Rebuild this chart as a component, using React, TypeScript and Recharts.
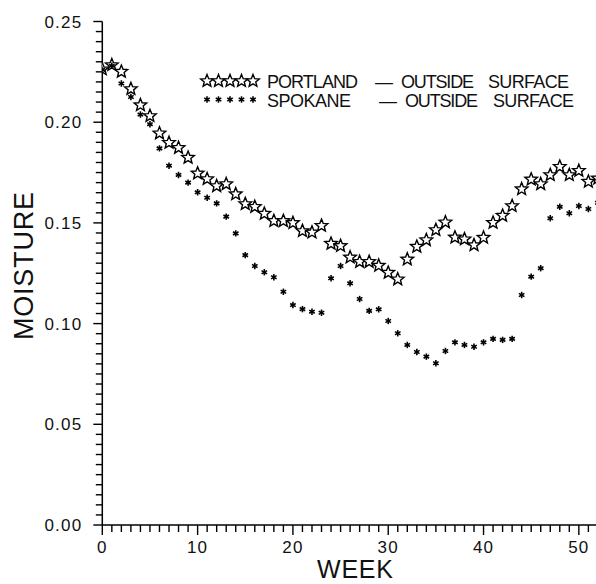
import React from "react";
import { ScatterChart, Scatter, XAxis, YAxis, Customized } from "recharts";

const weeks = [
  0, 1, 2, 3, 4, 5, 6, 7, 8, 9, 10, 11, 12, 13, 14, 15, 16, 17, 18, 19, 20, 21, 22, 23, 24, 25,
  26, 27, 28, 29, 30, 31, 32, 33, 34, 35, 36, 37, 38, 39, 40, 41, 42, 43, 44, 45, 46, 47, 48, 49,
  50, 51, 52,
];

const portlandMoisture = [
  0.2263, 0.2284, 0.2251, 0.2165, 0.2085, 0.2031, 0.1945, 0.1898, 0.1873, 0.1824, 0.1746, 0.1718,
  0.1683, 0.1693, 0.1643, 0.1594, 0.158, 0.1546, 0.151, 0.151, 0.15, 0.146, 0.1453, 0.1486,
  0.1397, 0.1386, 0.1329, 0.1307, 0.1307, 0.1288, 0.1253, 0.122, 0.1319, 0.1382, 0.1415, 0.1465,
  0.1503, 0.1428, 0.1419, 0.139, 0.1427, 0.1501, 0.1536, 0.1584, 0.1668, 0.1716, 0.1693, 0.1738,
  0.1779, 0.1738, 0.1759, 0.1705, 0.1721,
];

const spokaneMoisture = [
  0.226, 0.228, 0.2192, 0.2125, 0.2038, 0.199, 0.187, 0.1784, 0.1738, 0.17, 0.1652, 0.1625,
  0.1597, 0.1531, 0.1448, 0.134, 0.1286, 0.1255, 0.123, 0.1158, 0.1092, 0.1072, 0.1059, 0.1054,
  0.1225, 0.1286, 0.12, 0.1122, 0.1063, 0.1071, 0.1013, 0.0952, 0.0894, 0.0859, 0.0836, 0.0803,
  0.0864, 0.0907, 0.0894, 0.0885, 0.0907, 0.0924, 0.0919, 0.0924, 0.1142, 0.1233, 0.1275, 0.1523,
  0.158, 0.1548, 0.1584, 0.1569, 0.16,
];

const xMajorTicks = [0, 10, 20, 30, 40, 50];
const yMajorTicks = [0.0, 0.05, 0.1, 0.15, 0.2, 0.25];

const seriesNames = ["PORTLAND", "SPOKANE"];
const legendSuffix = ["OUTSIDE", "SURFACE"];

const xTicks: number[] = [];
for (let i = 0; i <= 51; i++) xTicks.push(i);
const yTicks: number[] = [];
for (let i = 0; i <= 50; i++) yTicks.push(Math.round(i * 0.005 * 1000) / 1000);

const portlandData = weeks.map((w, i) => ({ week: w, m: portlandMoisture[i] }));
const spokaneData = weeks.map((w, i) => ({ week: w, m: spokaneMoisture[i] }));

const FONT = "'Liberation Sans', Arial, sans-serif";

// chart layout configuration (shared by the chart and the axis tick overlay)
const CHART_W = 596;
const CHART_H = 584;
const MARGIN = { top: 21.5, right: 0, bottom: 0, left: 0 };
const Y_AXIS_W = 102.3;
const X_AXIS_H = 59;
const X_DOMAIN: [number, number] = [0, 51.8];
const Y_DOMAIN: [number, number] = [0, 0.25];
const PLOT_LEFT = MARGIN.left + Y_AXIS_W;
const PLOT_RIGHT = CHART_W - MARGIN.right;
const PLOT_TOP = MARGIN.top;
const PLOT_BOTTOM = CHART_H - MARGIN.bottom - X_AXIS_H;
const scaleX = (w: number) =>
  PLOT_LEFT + ((w - X_DOMAIN[0]) / (X_DOMAIN[1] - X_DOMAIN[0])) * (PLOT_RIGHT - PLOT_LEFT);
const scaleY = (v: number) =>
  PLOT_BOTTOM - ((v - Y_DOMAIN[0]) / (Y_DOMAIN[1] - Y_DOMAIN[0])) * (PLOT_BOTTOM - PLOT_TOP);

function starPoints(cx: number, cy: number, ro: number, ri: number) {
  const pts: string[] = [];
  for (let k = 0; k < 10; k++) {
    const r = k % 2 === 0 ? ro : ri;
    const a = -Math.PI / 2 + (k * Math.PI) / 5;
    pts.push(`${(cx + r * Math.cos(a)).toFixed(2)},${(cy + r * Math.sin(a)).toFixed(2)}`);
  }
  return pts.join(" ");
}

const StarMark = (props: any) => {
  const { cx, cy } = props;
  if (cx == null || cy == null) return null;
  return (
    <polygon
      points={starPoints(cx, cy, 6.6, 2.9)}
      fill="#fff"
      stroke="#000"
      strokeWidth={1.4}
      strokeLinejoin="miter"
    />
  );
};

const AsteriskMark = (props: any) => {
  const { cx, cy } = props;
  if (cx == null || cy == null) return null;
  const r = 3.2;
  const lines = [0, 60, 120].map((deg) => {
    const a = ((deg + 90) * Math.PI) / 180;
    return (
      <line
        key={deg}
        x1={cx - r * Math.cos(a)}
        y1={cy - r * Math.sin(a)}
        x2={cx + r * Math.cos(a)}
        y2={cy + r * Math.sin(a)}
        stroke="#000"
        strokeWidth={1.6}
      />
    );
  });
  return (
    <g>
      {lines}
      <circle cx={cx} cy={cy} r={1.3} fill="#000" />
    </g>
  );
};

const isMajorY = (v: number) => yMajorTicks.some((t) => Math.abs(t - v) < 1e-6);
const isMajorX = (v: number) => xMajorTicks.includes(v);

const YTick = (props: any) => {
  const x = Number(props.x);
  const y = Number(props.y);
  const v = Number(props.payload.value);
  if (!isMajorY(v)) return <g />;
  return (
    <g>
      <text
        x={x - 20}
        y={y + 6}
        textAnchor="end"
        fontSize={17}
        fontFamily={FONT}
        letterSpacing={1.2}
        fill="#111"
      >
        {v.toFixed(2)}
      </text>
    </g>
  );
};

const XTick = (props: any) => {
  const x = Number(props.x);
  const y = Number(props.y);
  const v = Number(props.payload.value);
  if (!isMajorX(v)) return <g />;
  return (
    <g>
      <text
        x={x}
        y={y + 28}
        textAnchor="middle"
        fontSize={17}
        fontFamily={FONT}
        letterSpacing={1.2}
        fill="#111"
      >
        {String(v)}
      </text>
    </g>
  );
};

const AxisTickMarks = () => (
  <g>
    {yTicks.map((v) => {
      const len = isMajorY(v) ? 9 : 6.5;
      const y = scaleY(v);
      return <rect key={"yt" + v} x={PLOT_LEFT - len} y={y - 0.7} width={len} height={1.4} fill="#000" />;
    })}
    {xTicks.map((w) => {
      const len = isMajorX(w) ? 10 : 7;
      const x = scaleX(w);
      return <rect key={"xt" + w} x={x - 0.7} y={PLOT_BOTTOM} width={1.4} height={len} fill="#000" />;
    })}
  </g>
);

const LegendBlock = () => {
  const starXs = [207, 218.5, 230, 241.5, 253];
  return (
    <g>
      <AxisTickMarks />
      {starXs.map((sx) => (
        <StarMark key={"s" + sx} cx={sx} cy={81} />
      ))}
      {starXs.map((sx) => (
        <AsteriskMark key={"a" + sx} cx={sx} cy={99.5} />
      ))}
      <g fontFamily={FONT} fontSize={18} fill="#111">
        <text x={267} y={88} textLength={91}>{seriesNames[0]}</text>
        <text x={375} y={88} textLength={11}>—</text>
        <text x={401} y={88} textLength={73}>{legendSuffix[0]}</text>
        <text x={488} y={88} textLength={81}>{legendSuffix[1]}</text>
        <text x={267} y={107} textLength={84}>{seriesNames[1]}</text>
        <text x={379} y={107} textLength={11}>—</text>
        <text x={405} y={107} textLength={73}>{legendSuffix[0]}</text>
        <text x={493} y={107} textLength={81}>{legendSuffix[1]}</text>
      </g>
      <text
        x={0}
        y={0}
        transform="translate(33,266) rotate(-90)"
        textAnchor="middle"
        fontFamily={FONT}
        fontSize={27}
        textLength={148}
        fill="#111"
      >
        MOISTURE
      </text>
      <text
        x={355}
        y={578}
        textAnchor="middle"
        fontFamily={FONT}
        fontSize={25}
        textLength={76}
        fill="#111"
      >
        WEEK
      </text>
    </g>
  );
};

export default function App() {
  return (
    <div style={{ position: "absolute", left: 0, top: 0 }}>
      <ScatterChart width={CHART_W} height={CHART_H} margin={MARGIN}>
        <XAxis
          type="number"
          dataKey="week"
          domain={X_DOMAIN}
          allowDataOverflow
          ticks={xTicks}
          interval={0}
          tickSize={0}
          tickMargin={0}
          tickLine={false}
          tick={<XTick />}
          axisLine={{ stroke: "#000", strokeWidth: 1.5 }}
          height={X_AXIS_H}
        />
        <YAxis
          type="number"
          dataKey="m"
          domain={Y_DOMAIN}
          allowDataOverflow
          ticks={yTicks}
          interval={0}
          tickSize={0}
          tickMargin={0}
          tickLine={false}
          tick={<YTick />}
          axisLine={{ stroke: "#000", strokeWidth: 1.5 }}
          width={Y_AXIS_W}
        />
        <Scatter
          name="PORTLAND - OUTSIDE SURFACE"
          data={portlandData}
          shape={StarMark}
          isAnimationActive={false}
        />
        <Scatter
          name="SPOKANE - OUTSIDE SURFACE"
          data={spokaneData}
          shape={AsteriskMark}
          isAnimationActive={false}
        />
        <Customized component={LegendBlock} />
      </ScatterChart>
    </div>
  );
}
